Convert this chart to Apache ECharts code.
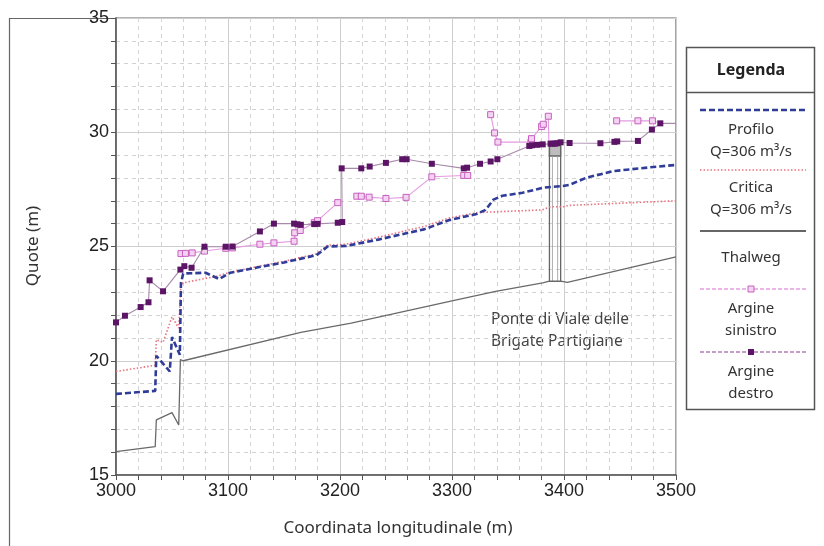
<!DOCTYPE html>
<html>
<head>
<meta charset="utf-8">
<script src="https://cdn.jsdelivr.net/npm/echarts@6/dist/echarts.min.js"></script>
<style>
  html, body { margin: 0; padding: 0; background: #fff; }
  #chart { width: 824px; height: 546px; }
</style>
</head>
<body>
<div id="chart"></div>
<script>
// Longitudinal profile of the river reach, stations 3000–3500 m

// Thalweg (channel bed) elevation
const thalwegX = [3000, 3035, 3036, 3050, 3056, 3057.5, 3060, 3165, 3210, 3301, 3339, 3381, 3387, 3397, 3403, 3500];
const thalwegY = [16.02, 16.24, 17.41, 17.73, 17.19, 20.05, 20.0, 21.24, 21.65, 22.63, 23.04, 23.41, 23.48, 23.48, 23.43, 24.55];

// Water surface profile, Q = 306 m3/s
const profiloX = [3000, 3035, 3036, 3048, 3050, 3057, 3058, 3060, 3080, 3092, 3102, 3129, 3150, 3179, 3189, 3205, 3234, 3261, 3275, 3297, 3322, 3330, 3337, 3345, 3363, 3381, 3399, 3405, 3420, 3444, 3480, 3500];
const profiloY = [18.55, 18.68, 20.22, 19.53, 21.04, 20.26, 23.41, 23.82, 23.85, 23.58, 23.85, 24.11, 24.3, 24.62, 25.0, 25.02, 25.3, 25.6, 25.75, 26.15, 26.42, 26.6, 27.05, 27.22, 27.35, 27.57, 27.65, 27.7, 28.01, 28.3, 28.48, 28.57];

// Critical depth level, Q = 306 m3/s
const criticaX = [3000, 3035, 3036, 3042, 3050, 3056, 3058, 3060, 3090, 3102, 3129, 3150, 3179, 3189, 3205, 3234, 3261, 3275, 3297, 3322, 3330, 3380, 3388, 3399, 3405, 3500];
const criticaY = [19.53, 19.8, 20.92, 20.8, 21.92, 21.43, 23.33, 23.41, 23.7, 23.87, 24.15, 24.35, 24.68, 25.06, 25.1, 25.4, 25.72, 25.87, 26.24, 26.48, 26.5, 26.6, 26.74, 26.74, 26.8, 27.0];

// Left bank crest (null = no survey between sections)
const sinistroX = [3058, 3062, 3068, 3079, 3098, 3104, 3128.5, 3141, 3159, 3159.5, 3164.5, 3177, 3180, 3198, 3206, 3215, 3219, 3226, 3241, 3259, 3282, 3310.5, 3314, 3324, 3334.5, 3338, 3341, 3370.5, 3371, 3380, 3381.5, 3386, 3386.5, 3420, 3447, 3466, 3479, 3486];
const sinistroY = [24.69, 24.7, 24.72, 24.8, 24.92, 24.94, 25.1, 25.16, 25.23, 25.6, 25.7, 26.04, 26.13, 26.92, null, 27.2, 27.2, 27.16, 27.1, 27.15, 28.05, 28.11, 28.11, null, 30.77, 29.97, 29.57, 29.57, 29.72, 30.25, 30.35, 30.7, 29.47, null, 30.5, 30.5, 30.5, 30.39];
const sinistroNoMark = [3386.5, 3486];

// Right bank crest
const destroX = [3000, 3008, 3022, 3029, 3030, 3042, 3057.5, 3061, 3067.5, 3079, 3098, 3104, 3128.5, 3141, 3159, 3162, 3165, 3177, 3180, 3198, 3202, 3201.5, 3219, 3226.5, 3241, 3255.5, 3259.5, 3282, 3310.5, 3313.5, 3325, 3334.5, 3340.5, 3369, 3371.5, 3376, 3381, 3388, 3390, 3392, 3394, 3397, 3405, 3432.5, 3445, 3447.5, 3466, 3478.5, 3486, 3500];
const destroY = [21.68, 21.97, 22.35, 22.56, 23.52, 23.04, 23.99, 24.14, 24.07, 24.99, 24.99, 25.0, 25.66, 26.0, 26.0, 25.97, 25.95, 25.98, 25.99, 26.04, 26.07, 28.42, 28.42, 28.5, 28.66, 28.82, 28.82, 28.62, 28.42, 28.45, 28.62, 28.72, 28.82, 29.4, 29.43, 29.45, 29.47, 29.5, 29.5, 29.5, 29.52, 29.56, 29.53, 29.52, 29.58, 29.6, 29.62, 30.12, 30.39, 30.39];
const destroNoMark = [3500];

// Bridge "Ponte di Viale delle Brigate Partigiane": pier faces, base, deck
const bridgeX = [3387, 3397];
const bridgeBase = 23.48;
const deckBottom = 28.96;
const deckTop = 29.47;

const xTicks = [3000, 3100, 3200, 3300, 3400, 3500];
const yTicks = [15, 20, 25, 30, 35];

function pairs(xs, ys, noMark) {
  return xs.map((x, i) => {
    const item = { value: [x, ys[i] === null ? '-' : ys[i]] };
    if (noMark && noMark.indexOf(x) >= 0) item.symbol = 'none';
    return item;
  });
}

const chart = echarts.init(document.getElementById('chart'), null, { renderer: 'canvas' });
const tickFont = { fontFamily: 'Liberation Sans, Arial, sans-serif', fontSize: 18, color: '#222' };
const textFont = 'Noto Sans, Open Sans, sans-serif';
const plain = v => String(v);

const option = {
  animation: false,
  backgroundColor: '#fff',
  grid: { left: 116, right: 148, top: 18, bottom: 71, show: true, borderColor: '#666', borderWidth: 1.2 },
  xAxis: {
    type: 'value', min: xTicks[0], max: xTicks[xTicks.length - 1], interval: 100,
    axisLine: { show: true, onZero: false, lineStyle: { color: '#555', width: 1.5 } },
    axisTick: { show: true, length: 5, lineStyle: { color: '#555' } },
    minorTick: { show: true, splitNumber: 5, length: 5, lineStyle: { color: '#555' } },
    splitLine: { show: true, lineStyle: { color: '#cfcfcf', width: 1 } },
    minorSplitLine: { show: true, lineStyle: { color: '#d2d2d2', width: 1, type: [4, 4] } },
    axisLabel: Object.assign({ margin: 7, formatter: plain }, tickFont)
  },
  yAxis: {
    type: 'value', min: yTicks[0], max: yTicks[yTicks.length - 1], interval: 5,
    axisLine: { show: true, onZero: false, lineStyle: { color: '#555', width: 1.5 } },
    axisTick: { show: true, length: 5, lineStyle: { color: '#555' } },
    minorTick: { show: true, splitNumber: 5, length: 5, lineStyle: { color: '#555' } },
    splitLine: { show: true, lineStyle: { color: '#cfcfcf', width: 1 } },
    minorSplitLine: { show: true, lineStyle: { color: '#d2d2d2', width: 1, type: [4, 4] } },
    axisLabel: Object.assign({ margin: 7, formatter: plain }, tickFont)
  },
  series: [
    {
      name: 'Ponte', type: 'custom', z: 1,
      data: [[bridgeX[0], bridgeX[1]]],
      renderItem: function (params, api) {
        const l0 = api.coord([bridgeX[0], bridgeBase]);
        const r0 = api.coord([bridgeX[1], bridgeBase]);
        const lTop = api.coord([bridgeX[0], deckTop]);
        const rTop = api.coord([bridgeX[1], deckTop]);
        const lDeck = api.coord([bridgeX[0], deckBottom]);
        const stroke = { stroke: '#666', lineWidth: 1.3, fill: null };
        return {
          type: 'group',
          children: [
            { type: 'rect', shape: { x: lTop[0], y: lTop[1], width: rTop[0] - lTop[0], height: lDeck[1] - lTop[1] },
              style: { fill: '#bdbdbd', stroke: '#666', lineWidth: 1.3 } },
            { type: 'line', shape: { x1: l0[0], y1: l0[1], x2: lTop[0], y2: lTop[1] }, style: stroke },
            { type: 'line', shape: { x1: r0[0], y1: r0[1], x2: rTop[0], y2: rTop[1] }, style: stroke },
            { type: 'line', shape: { x1: l0[0] + 3, y1: l0[1], x2: l0[0] + 3, y2: lDeck[1] }, style: { stroke: '#999', lineWidth: 0.8 } },
            { type: 'line', shape: { x1: r0[0] - 3, y1: r0[1], x2: r0[0] - 3, y2: lDeck[1] }, style: { stroke: '#999', lineWidth: 0.8 } }
          ]
        };
      }
    },
    {
      name: 'Thalweg', type: 'line', z: 2, symbol: 'none',
      data: pairs(thalwegX, thalwegY),
      lineStyle: { color: '#6a6a6a', width: 1.3 }
    },
    {
      name: 'Critica', type: 'line', z: 3, symbol: 'none',
      data: pairs(criticaX, criticaY),
      lineStyle: { color: '#e8727f', width: 1.6, type: [1.5, 2] }
    },
    {
      name: 'Profilo', type: 'line', z: 4, symbol: 'none',
      data: pairs(profiloX, profiloY),
      lineStyle: { color: '#2f3d98', width: 2.6, type: [6, 3] }
    },
    {
      name: 'Argine sinistro', type: 'line', z: 5, symbol: 'rect', symbolSize: 6,
      connectNulls: false,
      data: pairs(sinistroX, sinistroY, sinistroNoMark),
      lineStyle: { color: '#e49ae0', width: 1.1 },
      itemStyle: { color: '#f4d2f1', borderColor: '#c660bf', borderWidth: 1 }
    },
    {
      name: 'Argine destro', type: 'line', z: 6, symbol: 'rect', symbolSize: 6,
      data: pairs(destroX, destroY, destroNoMark),
      lineStyle: { color: '#a88aab', width: 1.1 },
      itemStyle: { color: '#5c1566' }
    }
  ],
  graphic: [
    // outer figure border (left and top)
    { type: 'polyline', silent: true, shape: { points: [[9.5, 546], [9.5, 18.5], [116, 18.5]] }, style: { stroke: '#666', lineWidth: 1.2, fill: null } },
    // axis titles
    { type: 'text', style: { x: 398, y: 528, text: 'Coordinata longitudinale (m)', font: '17px ' + textFont, fill: '#333', align: 'center', verticalAlign: 'middle' } },
    { type: 'text', x: 33, y: 246, rotation: Math.PI / 2, style: { x: 0, y: 0, text: 'Quote (m)', font: '17px ' + textFont, fill: '#333', align: 'center', verticalAlign: 'middle' } },
    // bridge caption
    { type: 'text', left: 491, top: 309, style: { text: 'Ponte di Viale delle\nBrigate Partigiane', font: '15.5px ' + textFont, lineHeight: 22, fill: '#444' } },
    // legend box
    { type: 'rect', shape: { x: 686.5, y: 47.5, width: 128, height: 362 }, style: { fill: '#fff', stroke: '#555', lineWidth: 1.5 } },
    { type: 'line', shape: { x1: 686.5, y1: 92.5, x2: 814.5, y2: 92.5 }, style: { stroke: '#555', lineWidth: 1.5 } },
    { type: 'text', style: { x: 751, y: 70, text: 'Legenda', font: 'bold 16px ' + textFont, fill: '#222', align: 'center', verticalAlign: 'middle' } },
    { type: 'line', shape: { x1: 700, y1: 110, x2: 806, y2: 110 }, style: { stroke: '#2f3d98', lineWidth: 2.4, lineDash: [6, 3] } },
    { type: 'text', style: { x: 751, y: 141, text: 'Profilo\nQ=306 m³/s', font: '15px ' + textFont, lineHeight: 22, fill: '#333', align: 'center', verticalAlign: 'middle' } },
    { type: 'line', shape: { x1: 700, y1: 170, x2: 806, y2: 170 }, style: { stroke: '#e8727f', lineWidth: 1.6, lineDash: [1.5, 2] } },
    { type: 'text', style: { x: 751, y: 199, text: 'Critica\nQ=306 m³/s', font: '15px ' + textFont, lineHeight: 22, fill: '#333', align: 'center', verticalAlign: 'middle' } },
    { type: 'line', shape: { x1: 700, y1: 231, x2: 806, y2: 231 }, style: { stroke: '#333', lineWidth: 1.4 } },
    { type: 'text', style: { x: 751, y: 258, text: 'Thalweg', font: '15px ' + textFont, fill: '#333', align: 'center', verticalAlign: 'middle' } },
    { type: 'line', shape: { x1: 700, y1: 289, x2: 806, y2: 289 }, style: { stroke: '#d66fd0', lineWidth: 1.2, lineDash: [4, 2] } },
    { type: 'rect', shape: { x: 748, y: 286, width: 6, height: 6 }, style: { fill: '#f4d2f1', stroke: '#c660bf', lineWidth: 1 } },
    { type: 'text', style: { x: 751, y: 320, text: 'Argine\nsinistro', font: '15px ' + textFont, lineHeight: 22, fill: '#333', align: 'center', verticalAlign: 'middle' } },
    { type: 'line', shape: { x1: 700, y1: 352, x2: 806, y2: 352 }, style: { stroke: '#8a3a90', lineWidth: 1.2, lineDash: [4, 2] } },
    { type: 'rect', shape: { x: 748, y: 349, width: 6, height: 6 }, style: { fill: '#5c1566' } },
    { type: 'text', style: { x: 751, y: 383, text: 'Argine\ndestro', font: '15px ' + textFont, lineHeight: 22, fill: '#333', align: 'center', verticalAlign: 'middle' } }
  ]
};
chart.setOption(option);
</script>
</body>
</html>
